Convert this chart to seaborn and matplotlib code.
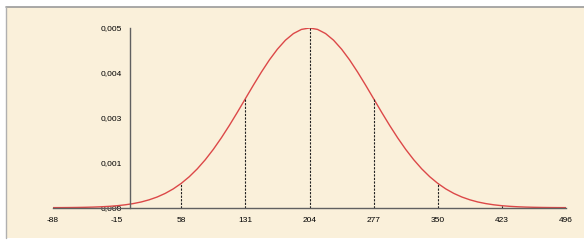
import matplotlib
matplotlib.use('Agg')
import matplotlib.pyplot as plt
from matplotlib.patches import Rectangle
from matplotlib.lines import Line2D
import seaborn as sns

# curve (x every 9.125 units, peak 0.005 at 204)
x_vals = [-88, -78.875, -69.75, -60.625, -51.5, -42.375, -33.25, -24.125,
          -15, -5.875, 3.25, 12.375, 21.5, 30.625, 39.75, 48.875,
          58, 67.125, 76.25, 85.375, 94.5, 103.625, 112.75, 121.875,
          131, 140.125, 149.25, 158.375, 167.5, 176.625, 185.75, 194.875,
          204, 213.125, 222.25, 231.375, 240.5, 249.625, 258.75, 267.875,
          277, 286.125, 295.25, 304.375, 313.5, 322.625, 331.75, 340.875,
          350, 359.125, 368.25, 377.375, 386.5, 395.625, 404.75, 413.875,
          423, 432.125, 441.25, 450.375, 459.5, 468.625, 477.75, 486.875,
          496]
density = [0.0000017, 0.0000027, 0.0000044, 0.0000070, 0.0000109, 0.0000168, 0.0000254, 0.0000379,
           0.0000555, 0.0000802, 0.000114, 0.000159, 0.000220, 0.000298, 0.000398, 0.000523,
           0.000677, 0.000862, 0.001081, 0.001335, 0.001623, 0.001943, 0.002289, 0.002655,
           0.003033, 0.003410, 0.003774, 0.004113, 0.004412, 0.004661, 0.004846, 0.004961,
           0.005000, 0.004961, 0.004846, 0.004661, 0.004412, 0.004113, 0.003774, 0.003410,
           0.003033, 0.002655, 0.002289, 0.001943, 0.001623, 0.001335, 0.001081, 0.000862,
           0.000677, 0.000523, 0.000398, 0.000298, 0.000220, 0.000159, 0.000114, 0.0000802,
           0.0000555, 0.0000379, 0.0000254, 0.0000168, 0.0000109, 0.0000070, 0.0000044, 0.0000027,
           0.0000017]

x_ticks = [-88, -15, 58, 131, 204, 277, 350, 423, 496]
y_ticks = [0, 0.00125, 0.0025, 0.00375, 0.005]
y_tick_labels = ['0,000', '0,001', '0,003', '0,004', '0,005']

sns.set_style('white')
plt.rcParams['font.family'] = ['Liberation Sans', 'DejaVu Sans']

fig = plt.figure(figsize=(5.84, 2.41), dpi=100)
fig.patch.set_facecolor('white')

# parchment panel with grey frame on top/left
W, H = 584, 241
fig.add_artist(Rectangle((6 / W, 3 / H), 1 - 6 / W, 231 / H, transform=fig.transFigure,
                         facecolor='#faf0da', edgecolor='none', zorder=0))
fig.add_artist(Line2D([6 / W, 1], [234 / H, 234 / H], transform=fig.transFigure,
                      color='#9a9a9a', lw=1.2))
fig.add_artist(Line2D([6 / W, 6 / W], [3 / H, 234 / H], transform=fig.transFigure,
                      color='#b0b0b0', lw=1.0))

ax = fig.add_axes([53 / W, 33.3 / H, 513 / W, 179.7 / H])
ax.set_facecolor('none')

sns.lineplot(x=x_vals, y=density, color='#dc4848', lw=1.0, ax=ax)

# dashed drop lines at tick positions
tick_heights = density[::8]
ax.vlines(x_ticks, 0, tick_heights, colors='#202020', linestyles=(0, (2, 1.2)), lw=0.8)

ax.set_xlim(-88, 496)
ax.set_ylim(0, 0.005)
ax.set_xticks(x_ticks)
ax.set_xticklabels([str(t) for t in x_ticks])
ax.set_yticks(y_ticks)
ax.set_yticklabels(y_tick_labels)

for s in ['top', 'right']:
    ax.spines[s].set_visible(False)
ax.spines['left'].set_position(('data', 0))
for s in ['left', 'bottom']:
    ax.spines[s].set_color('#606060')
    ax.spines[s].set_linewidth(1.0)

ax.tick_params(axis='both', direction='out', length=3, width=0.9, color='#606060',
               labelsize=6, labelcolor='black', pad=3)
ax.tick_params(axis='x', pad=4)
ax.set_xlabel('')
ax.set_ylabel('')

fig.savefig('out.png', dpi=100, facecolor=fig.get_facecolor())
